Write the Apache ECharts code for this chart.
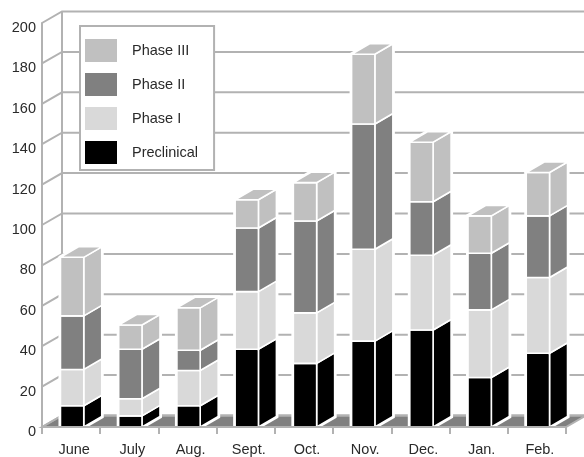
<!DOCTYPE html>
<html>
<head>
<meta charset="utf-8">
<style>
    html,body{margin:0;padding:0;background:#fff;}
    #chart{width:584px;height:457px;}
</style>
<script src="https://cdn.jsdelivr.net/npm/echarts@6/dist/echarts.min.js"></script>
</head>
<body>
<div id="chart"></div>
<script>
    const months = ['June','July','Aug.','Sept.','Oct.','Nov.','Dec.','Jan.','Feb.']
    const tickValues = [0,20,40,60,80,100,120,140,160,180,200]
    const preclinical = [10.5,5.5,10.5,38.5,31.5,42.5,48,24.5,36.5]
    const phase1 = [18,8.5,17.5,28.5,25,45.5,37,33.5,37.5]
    const phase2 = [26.5,24.5,10,31.5,45.5,62,26.5,28,30.5]
    const phase3 = [29,12,21,14,19,34.5,29.5,18.5,21.5]

    const FONT = '"Liberation Sans",Arial,sans-serif'
    const FONT_SIZE = 14.5
    const TEXT_COLOR = '#2a2a2a'
    const GRID_COLOR = '#b2b2b2'
    // 3d offsets of the wall and of the bars
    const WALL_X = 20, WALL_Y = -11.5
    const BAR_X = 18, BAR_Y = -10.5

    const chart = echarts.init(document.getElementById('chart'))

    // build [index, base, top] rows for each stacked level
    function stackRows(levels){
        const base = months.map(() => 0)
        return levels.map(level => level.map((v,i) => {
            const row = [i, base[i], base[i] + v]
            base[i] += v
            return row
        }))
    }
    const levels = [preclinical,phase1,phase2,phase3]
    const rows = stackRows(levels)

    function barBox(api){
        const width = api.size([1,0])[0] * 0.4
        const center = api.coord([api.value(0),0])[0] + 1
        const x0 = center - width / 2
        return {
            x0,
            x1:center + width / 2,
            yLow:api.coord([api.value(0),api.value(1)])[1],
            yHigh:api.coord([api.value(0),api.value(2)])[1]
        }
    }

    function renderSegment(params,api,withTop,color){
        const b = barBox(api)
        const style = {fill:color,stroke:'#fff',lineWidth:1.6}
        const children = [
            {type:'polygon',shape:{points:[[b.x1,b.yHigh],[b.x1 + BAR_X,b.yHigh + BAR_Y],[b.x1 + BAR_X,b.yLow + BAR_Y],[b.x1,b.yLow]]},style},
            {type:'rect',shape:{x:b.x0,y:b.yHigh,width:b.x1 - b.x0,height:b.yLow - b.yHigh},style}
        ]
        if(withTop){
            children.push({type:'polygon',shape:{points:[[b.x0,b.yHigh],[b.x0 + BAR_X,b.yHigh + BAR_Y],[b.x1 + BAR_X,b.yHigh + BAR_Y],[b.x1,b.yHigh]]},style})
        }
        return {type:'group',children}
    }

    // white outline behind a whole stack, cuts the grid lines around it
    function renderHalo(params,api){
        const b = barBox(api)
        return {
            type:'polygon',
            shape:{points:[[b.x0,b.yLow],[b.x0,b.yHigh],[b.x0 + BAR_X,b.yHigh + BAR_Y],[b.x1 + BAR_X,b.yHigh + BAR_Y],[b.x1 + BAR_X,b.yLow + BAR_Y],[b.x1,b.yLow]]},
            style:{fill:'#fff',stroke:'#fff',lineWidth:4}
        }
    }

    function renderFloor(params,api){
        const left = api.coord([0,0])
        const size = api.size([1,0])[0]
        const x0 = left[0] - size / 2
        const x1 = left[0] + size * (months.length - 0.5)
        const y = left[1]
        return {
            type:'polygon',
            shape:{points:[[x0,y],[x0 + WALL_X,y + WALL_Y],[x1 + WALL_X,y + WALL_Y],[x1,y]]},
            style:{fill:'#808080',stroke:GRID_COLOR,lineWidth:2}
        }
    }

    function renderWallLine(params,api){
        const left = api.coord([0,api.value(1)])
        const size = api.size([1,0])[0]
        const x0 = left[0] - size / 2
        const x1 = left[0] + size * (months.length - 0.5)
        const y = left[1]
        const lineStyle = {stroke:GRID_COLOR,lineWidth:2,fill:null}
        const children = [
            {type:'polyline',shape:{points:[[x0,y],[x0 + WALL_X,y + WALL_Y],[x1 + WALL_X,y + WALL_Y]]},style:lineStyle}
        ]
        if(params.dataIndex === 0){
            const top = api.coord([0,tickValues[tickValues.length - 1]])[1]
            children.push({type:'line',shape:{x1:x0 + WALL_X,y1:y + WALL_Y,x2:x0 + WALL_X,y2:top + WALL_Y},style:lineStyle})
        }
        return {type:'group',children}
    }

    const names = ['Preclinical','Phase I','Phase II','Phase III']
    const colors = ['#000000','#d9d9d9','#808080','#c0c0c0']

    const option = {
        animation:false,
        backgroundColor:'#fff',
        grid:{left:42,right:18,top:23,bottom:29},
        legend:{
            data:['Phase III','Phase II','Phase I','Preclinical'],
            orient:'vertical',
            left:80,
            top:26,
            icon:'rect',
            itemWidth:32,
            itemHeight:23,
            itemGap:11,
            padding:[13,16,6,5],
            backgroundColor:'#fff',
            borderColor:GRID_COLOR,
            borderWidth:2,
            selectedMode:false,
            textStyle:{fontFamily:FONT,fontSize:FONT_SIZE,color:TEXT_COLOR,padding:[0,0,0,10]}
        },
        xAxis:{
            type:'category',
            data:months,
            z:5,
            axisLine:{show:true,lineStyle:{color:GRID_COLOR,width:2}},
            axisTick:{show:true,length:7,lineStyle:{color:GRID_COLOR,width:2}},
            axisLabel:{fontFamily:FONT,fontSize:FONT_SIZE,color:TEXT_COLOR,margin:15,padding:[0,0,0,6]}
        },
        yAxis:{
            type:'value',
            min:0,
            max:200,
            interval:20,
            axisLine:{show:true,lineStyle:{color:GRID_COLOR,width:2}},
            axisTick:{show:false},
            splitLine:{show:false},
            axisLabel:{fontFamily:FONT,fontSize:FONT_SIZE,color:TEXT_COLOR,margin:6,verticalAlign:'top',lineHeight:10}
        },
        series:[
            {type:'custom',silent:true,z:1,data:[[0,0]],renderItem:renderFloor},
            {type:'custom',silent:true,z:1,data:tickValues.map(v => [0,v]),renderItem:renderWallLine},
            {type:'custom',silent:true,z:2,data:rows[3].map(r => [r[0],0,r[2]]),renderItem:renderHalo}
        ].concat(names.map((name,k) => ({
            type:'custom',
            name,
            silent:true,
            z:3,
            itemStyle:{color:colors[k]},
            data:rows[k],
            encode:{x:0,y:[1,2]},
            renderItem:(params,api) => renderSegment(params,api,k === names.length - 1,colors[k])
        })))
    }
    chart.setOption(option)
</script>
</body>
</html>
